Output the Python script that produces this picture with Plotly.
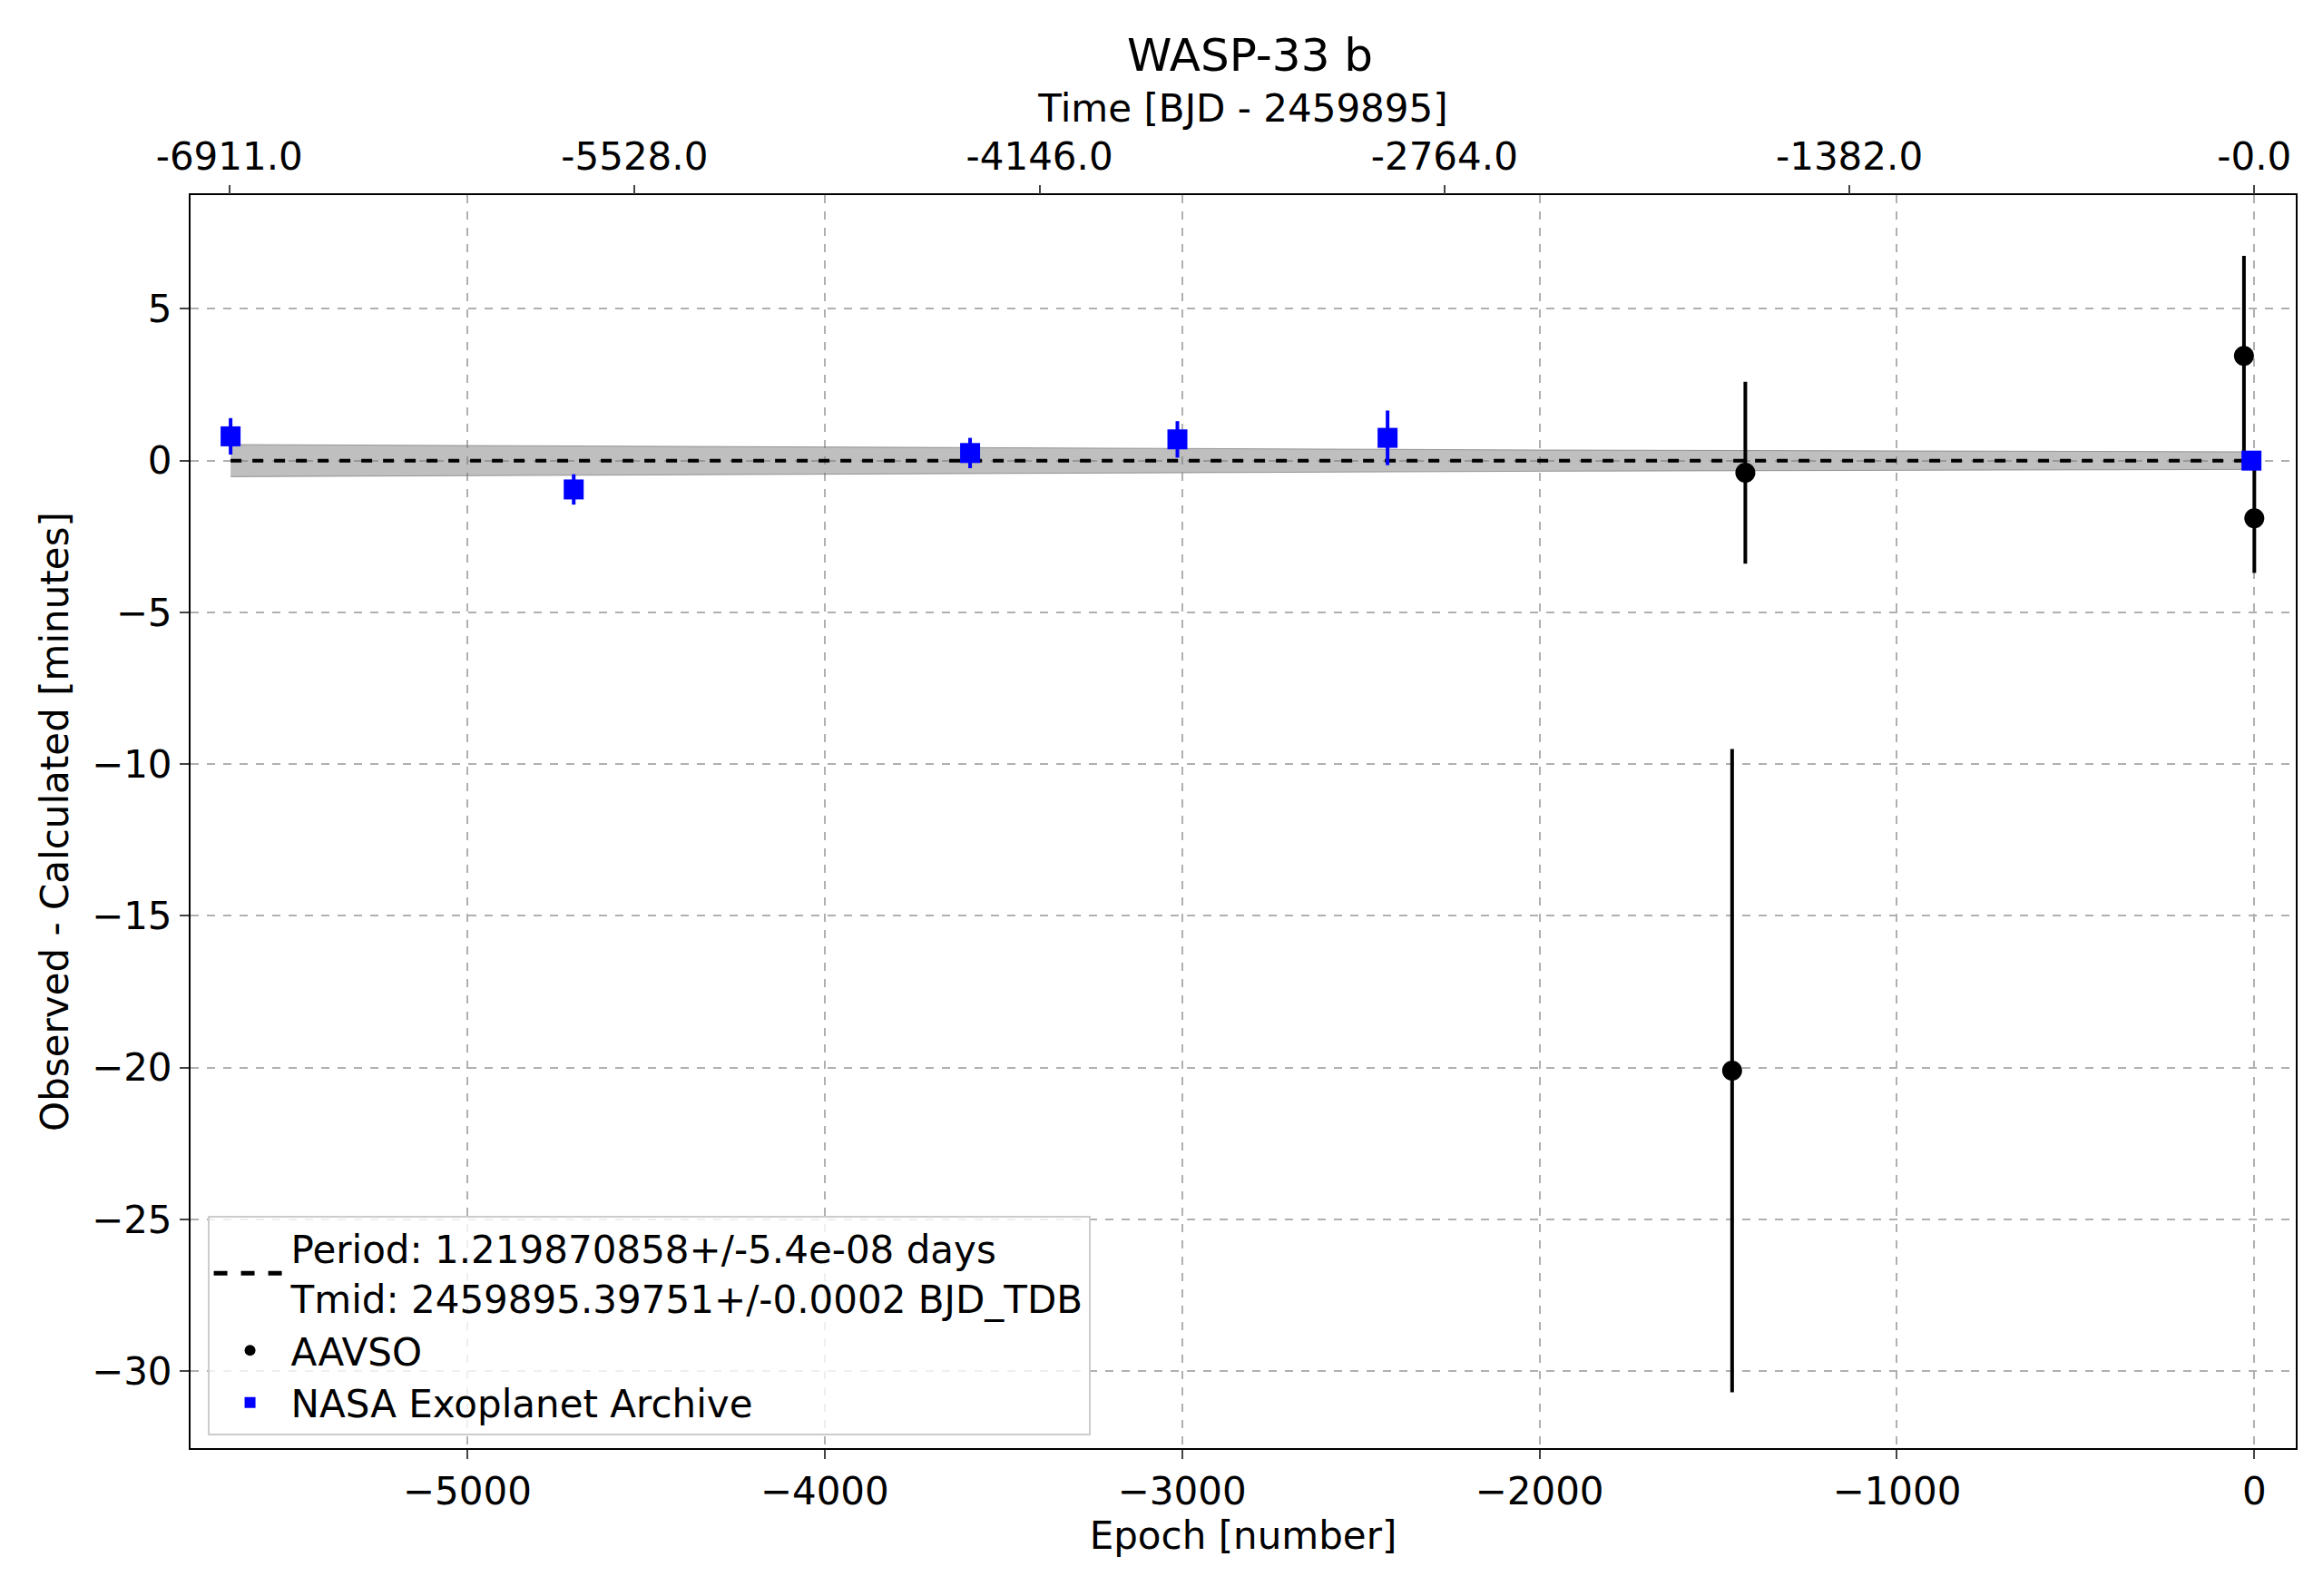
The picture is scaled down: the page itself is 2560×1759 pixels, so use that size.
import plotly.graph_objects as go

period = 1.219870858
nasa_epoch = [-5662, -4702, -3593, -3013, -2425, -8]
nasa_oc = [0.8, -0.95, 0.25, 0.7, 0.75, 0.0]
nasa_err = [0.6, 0.5, 0.5, 0.6, 0.9, 0.3]
aavso_epoch = [-1424, -1461, -29, 0]
aavso_oc = [-0.4, -20.1, 3.45, -1.9]
aavso_err = [3.0, 10.6, 3.3, 1.8]
band_epoch = [-5662, -4000, -2000, 0]
band_half = [0.53, 0.45, 0.35, 0.29]
time_ticks = [-6911.0, -5528.0, -4146.0, -2764.0, -1382.0, -0.0]

fs = 42
font = dict(family="DejaVu Sans", size=fs, color="black")
fig = go.Figure()
fig.add_trace(go.Scatter(x=band_epoch + band_epoch[::-1],
                         y=[h for h in band_half] + [-h for h in band_half[::-1]],
                         fill="toself", fillcolor="rgba(128,128,128,0.5)", mode="lines",
                         line=dict(color="rgba(100,100,100,0.6)", width=1),
                         showlegend=False, hoverinfo="skip"))
fig.add_trace(go.Scatter(x=[band_epoch[0], band_epoch[-1]], y=[0, 0], mode="lines",
                         line=dict(color="black", dash="dash", width=4),
                         name="Period: 1.219870858+/-5.4e-08 days<br>Tmid: 2459895.39751+/-0.0002 BJD_TDB"))
fig.add_trace(go.Scatter(x=aavso_epoch, y=aavso_oc, mode="markers", name="AAVSO",
                         marker=dict(color="black", size=22, symbol="circle"),
                         error_y=dict(array=aavso_err, color="black", thickness=4, width=0)))
fig.add_trace(go.Scatter(x=nasa_epoch, y=nasa_oc, mode="markers", name="NASA Exoplanet Archive",
                         marker=dict(color="blue", size=22, symbol="square"),
                         error_y=dict(array=nasa_err, color="blue", thickness=4, width=0)))
# invisible trace for top axis
fig.add_trace(go.Scatter(x=[0], y=[0], xaxis="x2", mode="markers", marker=dict(opacity=0),
                         showlegend=False, hoverinfo="skip"))

xr = [-5774, 116]
grid = dict(showgrid=True, gridcolor="#b0b0b0", griddash="dash", gridwidth=2)
fig.update_layout(
    width=2560, height=1759, paper_bgcolor="white", plot_bgcolor="white", font=font,
    margin=dict(l=202, r=38, t=207, b=171),
    title=dict(text="WASP-33 b", x=0.535, xanchor="center", y=0.97, yanchor="middle",
               font=dict(size=50)),
    xaxis=dict(range=xr, title=dict(text="Epoch [number]", standoff=8, font=dict(size=fs)),
               tickvals=[-5000, -4000, -3000, -2000, -1000, 0],
               ticktext=["\u22125000", "\u22124000", "\u22123000", "\u22122000", "\u22121000", "0"],
               tickfont=dict(size=fs),
               ticks="outside", ticklen=10, tickwidth=2, showline=True, linecolor="black",
               linewidth=2, mirror=True, zeroline=False, **grid),
    xaxis2=dict(range=xr, overlaying="x", side="top", matches=None,
                tickvals=[t / period for t in time_ticks],
                ticktext=[f"{t:.1f}" for t in time_ticks],
                tickfont=dict(size=fs),
                title=dict(text="Time [BJD - 2459895]", standoff=0, font=dict(size=fs)),
                ticks="outside", ticklen=10, tickwidth=2, showgrid=False, zeroline=False),
    yaxis=dict(range=[-32.54, 8.75], title=dict(text="Observed - Calculated [minutes]", standoff=12, font=dict(size=fs)),
               tickvals=[5, 0, -5, -10, -15, -20, -25, -30],
               ticktext=["5", "0", "\u22125", "\u221210", "\u221215", "\u221220", "\u221225", "\u221230"],
               tickfont=dict(size=fs),
               ticks="outside", ticklen=10, tickwidth=2, showline=True, linecolor="black",
               linewidth=2, mirror=True, zeroline=False, **grid),
    legend=dict(x=0.008, y=0.01, xanchor="left", yanchor="bottom", bgcolor="rgba(255,255,255,0.8)",
                bordercolor="#cccccc", borderwidth=2, font=dict(size=fs), itemwidth=80,
                tracegroupgap=10, itemsizing="constant"),
)
fig.write_html("out.html")
